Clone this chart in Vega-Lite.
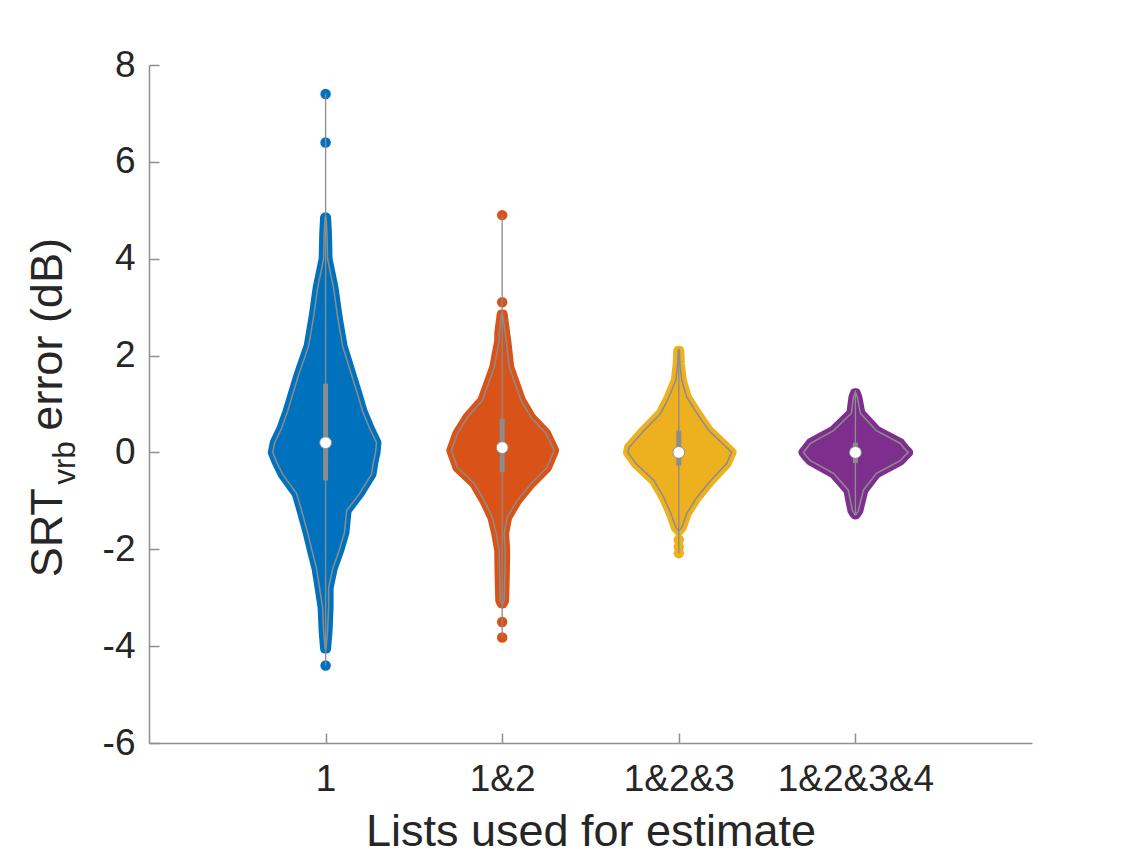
{
  "$schema": "https://vega.github.io/schema/vega-lite/v6.json",
  "autosize": "none",
  "width": 883,
  "height": 678,
  "padding": {"left": 149, "top": 65, "right": 112, "bottom": 116},
  "background": "white",
  "config": {
    "view": {"stroke": null},
    "font": "Liberation Sans",
    "axis": {
      "domainColor": "#8f8f8f",
      "domainWidth": 1.5,
      "tickColor": "#8f8f8f",
      "tickWidth": 1.5,
      "labelFont": "Liberation Sans",
      "labelFontSize": 37,
      "labelColor": "#262626",
      "titleFont": "Liberation Sans",
      "titleFontSize": 45,
      "titleFontWeight": "normal",
      "titleColor": "#262626",
      "grid": false
    }
  },
  "resolve": {"axis": {"x": "independent", "y": "independent"}},
  "datasets": {
    "shape": [
      {"g": "1", "y": 4.85, "xl": 0.997, "xr": 1.003},
      {"g": "1", "y": 4.5, "xl": 0.992, "xr": 1.008},
      {"g": "1", "y": 4.0, "xl": 0.989, "xr": 1.011},
      {"g": "1", "y": 3.4, "xl": 0.955, "xr": 1.045},
      {"g": "1", "y": 2.8, "xl": 0.932, "xr": 1.068},
      {"g": "1", "y": 2.2, "xl": 0.904, "xr": 1.096},
      {"g": "1", "y": 1.6, "xl": 0.847, "xr": 1.147},
      {"g": "1", "y": 1.2, "xl": 0.814, "xr": 1.181},
      {"g": "1", "y": 0.85, "xl": 0.785, "xr": 1.209},
      {"g": "1", "y": 0.5, "xl": 0.751, "xr": 1.249},
      {"g": "1", "y": 0.2, "xl": 0.712, "xr": 1.288},
      {"g": "1", "y": 0.0, "xl": 0.701, "xr": 1.283},
      {"g": "1", "y": -0.2, "xl": 0.723, "xr": 1.271},
      {"g": "1", "y": -0.45, "xl": 0.757, "xr": 1.26},
      {"g": "1", "y": -0.85, "xl": 0.836, "xr": 1.192},
      {"g": "1", "y": -1.2, "xl": 0.864, "xr": 1.119},
      {"g": "1", "y": -1.65, "xl": 0.898, "xr": 1.107},
      {"g": "1", "y": -2.0, "xl": 0.921, "xr": 1.079},
      {"g": "1", "y": -2.4, "xl": 0.949, "xr": 1.04},
      {"g": "1", "y": -2.8, "xl": 0.966, "xr": 1.017},
      {"g": "1", "y": -3.2, "xl": 0.983, "xr": 1.017},
      {"g": "1", "y": -3.7, "xl": 0.989, "xr": 1.011},
      {"g": "1", "y": -4.05, "xl": 0.997, "xr": 1.003},
      {"g": "1&2", "y": 2.85, "xl": 1.997, "xr": 2.003},
      {"g": "1&2", "y": 2.46, "xl": 1.983, "xr": 2.017},
      {"g": "1&2", "y": 2.31, "xl": 1.983, "xr": 2.023},
      {"g": "1&2", "y": 1.76, "xl": 1.955, "xr": 2.04},
      {"g": "1&2", "y": 1.07, "xl": 1.887, "xr": 2.107},
      {"g": "1&2", "y": 0.72, "xl": 1.802, "xr": 2.164},
      {"g": "1&2", "y": 0.39, "xl": 1.746, "xr": 2.249},
      {"g": "1&2", "y": 0.04, "xl": 1.712, "xr": 2.294},
      {"g": "1&2", "y": -0.31, "xl": 1.746, "xr": 2.254},
      {"g": "1&2", "y": -0.64, "xl": 1.842, "xr": 2.164},
      {"g": "1&2", "y": -0.99, "xl": 1.898, "xr": 2.085},
      {"g": "1&2", "y": -1.34, "xl": 1.944, "xr": 2.028},
      {"g": "1&2", "y": -1.67, "xl": 1.966, "xr": 2.011},
      {"g": "1&2", "y": -2.02, "xl": 1.983, "xr": 2.017},
      {"g": "1&2", "y": -2.5, "xl": 1.985, "xr": 2.015},
      {"g": "1&2", "y": -3.06, "xl": 1.989, "xr": 2.011},
      {"g": "1&2", "y": -3.12, "xl": 1.997, "xr": 2.003},
      {"g": "1&2&3", "y": 2.1, "xl": 2.997, "xr": 3.003},
      {"g": "1&2&3", "y": 1.84, "xl": 2.994, "xr": 3.006},
      {"g": "1&2&3", "y": 1.49, "xl": 2.983, "xr": 3.017},
      {"g": "1&2&3", "y": 1.14, "xl": 2.944, "xr": 3.045},
      {"g": "1&2&3", "y": 0.81, "xl": 2.898, "xr": 3.102},
      {"g": "1&2&3", "y": 0.45, "xl": 2.802, "xr": 3.17},
      {"g": "1&2&3", "y": 0.1, "xl": 2.718, "xr": 3.271},
      {"g": "1&2&3", "y": 0.0, "xl": 2.712, "xr": 3.299},
      {"g": "1&2&3", "y": -0.23, "xl": 2.757, "xr": 3.271},
      {"g": "1&2&3", "y": -0.58, "xl": 2.859, "xr": 3.181},
      {"g": "1&2&3", "y": -0.93, "xl": 2.915, "xr": 3.102},
      {"g": "1&2&3", "y": -1.26, "xl": 2.955, "xr": 3.045},
      {"g": "1&2&3", "y": -1.55, "xl": 2.983, "xr": 3.017},
      {"g": "1&2&3", "y": -1.61, "xl": 2.997, "xr": 3.003},
      {"g": "1&2&3&4", "y": 1.22, "xl": 3.997, "xr": 4.003},
      {"g": "1&2&3&4", "y": 1.14, "xl": 3.989, "xr": 4.011},
      {"g": "1&2&3&4", "y": 0.81, "xl": 3.977, "xr": 4.028},
      {"g": "1&2&3&4", "y": 0.45, "xl": 3.876, "xr": 4.119},
      {"g": "1&2&3&4", "y": 0.19, "xl": 3.746, "xr": 4.254},
      {"g": "1&2&3&4", "y": 0.08, "xl": 3.723, "xr": 4.277},
      {"g": "1&2&3&4", "y": 0.0, "xl": 3.706, "xr": 4.299},
      {"g": "1&2&3&4", "y": -0.08, "xl": 3.723, "xr": 4.277},
      {"g": "1&2&3&4", "y": -0.17, "xl": 3.746, "xr": 4.254},
      {"g": "1&2&3&4", "y": -0.43, "xl": 3.876, "xr": 4.119},
      {"g": "1&2&3&4", "y": -0.78, "xl": 3.96, "xr": 4.045},
      {"g": "1&2&3&4", "y": -1.2, "xl": 3.983, "xr": 4.017},
      {"g": "1&2&3&4", "y": -1.28, "xl": 3.997, "xr": 4.003}
    ],
    "dots": [
      {"g": "1", "pos": 1, "y": 7.4},
      {"g": "1", "pos": 1, "y": 6.4},
      {"g": "1", "pos": 1, "y": -4.4},
      {"g": "1&2", "pos": 2, "y": 4.9},
      {"g": "1&2", "pos": 2, "y": 3.1},
      {"g": "1&2", "pos": 2, "y": -3.5},
      {"g": "1&2", "pos": 2, "y": -3.82},
      {"g": "1&2&3", "pos": 3, "y": -1.8},
      {"g": "1&2&3", "pos": 3, "y": -1.95},
      {"g": "1&2&3", "pos": 3, "y": -2.08}
    ],
    "stats": [
      {"g": "1", "pos": 1, "min": -4.4, "max": 7.4, "q1": -0.58, "q3": 1.42, "med": 0.2},
      {"g": "1&2", "pos": 2, "min": -3.82, "max": 4.9, "q1": -0.41, "q3": 0.7, "med": 0.1},
      {"g": "1&2&3", "pos": 3, "min": -2.08, "max": 2.15, "q1": -0.27, "q3": 0.45, "med": 0.0},
      {"g": "1&2&3&4", "pos": 4, "min": -1.3, "max": 1.28, "q1": -0.22, "q3": 0.2, "med": 0.0}
    ]
  },
  "layer": [
    {
      "data": {"name": "shape"},
      "mark": {"type": "area", "orient": "horizontal", "strokeWidth": 10, "strokeJoin": "round", "fillOpacity": 1},
      "encoding": {
        "y": {"field": "y", "type": "quantitative", "scale": {"domain": [-6, 8], "nice": false, "zero": false},
          "axis": {"orient": "left", "values": [-6, -4, -2, 0, 2, 4, 6, 8], "title": null, "ticks": false, "labelPadding": 14,
            "labelExpr": "'' + datum.value"}},
        "x": {"field": "xl", "type": "quantitative", "scale": {"domain": [0, 5], "nice": false, "zero": false},
          "axis": {"orient": "bottom", "values": [1, 2, 3, 4], "title": "Lists used for estimate", "ticks": false, "labelPadding": 18, "titlePadding": 12,
            "labelExpr": "datum.value == 1 ? '1' : datum.value == 2 ? '1&2' : datum.value == 3 ? '1&2&3' : '1&2&3&4'"}},
        "x2": {"field": "xr"},
        "color": {"field": "g", "type": "nominal", "scale": {"domain": ["1", "1&2", "1&2&3", "1&2&3&4"], "range": ["#0072BD", "#D95319", "#EDB120", "#7E2F8E"]}, "legend": null},
        "stroke": {"field": "g", "type": "nominal", "scale": {"domain": ["1", "1&2", "1&2&3", "1&2&3&4"], "range": ["#0072BD", "#D95319", "#EDB120", "#7E2F8E"]}, "legend": null}
      }
    },
    {
      "data": {"name": "dots"},
      "mark": {"type": "point", "filled": true, "size": 110, "opacity": 1},
      "encoding": {
        "x": {"field": "pos", "type": "quantitative", "axis": null},
        "y": {"field": "y", "type": "quantitative", "axis": null},
        "color": {"field": "g", "type": "nominal", "legend": null}
      }
    },
    {
      "data": {"name": "shape"},
      "mark": {"type": "area", "orient": "horizontal", "fillOpacity": 0, "stroke": "#8c8c8c", "strokeWidth": 1.5},
      "encoding": {
        "y": {"field": "y", "type": "quantitative",
          "axis": {"orient": "right", "offset": -883, "values": [-6, -4, -2, 0, 2, 4, 6, 8], "title": null, "labels": false, "domain": false, "ticks": true, "tickSize": 10}},
        "x": {"field": "xl", "type": "quantitative",
          "axis": {"orient": "top", "offset": -678, "values": [1, 2, 3, 4], "title": null, "labels": false, "domain": false, "ticks": true, "tickSize": 10}},
        "x2": {"field": "xr"},
        "detail": {"field": "g", "type": "nominal"}
      }
    },
    {
      "data": {"name": "stats"},
      "mark": {"type": "rule", "color": "#8c8c8c", "strokeWidth": 1.3},
      "encoding": {
        "x": {"field": "pos", "type": "quantitative", "axis": null},
        "y": {"field": "min", "type": "quantitative", "axis": null},
        "y2": {"field": "max"}
      }
    },
    {
      "data": {"name": "stats"},
      "mark": {"type": "rule", "color": "#8c8c8c", "strokeWidth": 5},
      "encoding": {
        "x": {"field": "pos", "type": "quantitative", "axis": null},
        "y": {"field": "q1", "type": "quantitative", "axis": null},
        "y2": {"field": "q3"}
      }
    },
    {
      "data": {"name": "stats"},
      "mark": {"type": "point", "filled": true, "fill": "white", "stroke": "#8c8c8c", "strokeWidth": 1, "size": 140, "opacity": 1},
      "encoding": {
        "x": {"field": "pos", "type": "quantitative", "axis": null},
        "y": {"field": "med", "type": "quantitative", "axis": null}
      }
    },
    {
      "data": {"values": [{}]},
      "mark": {"type": "text", "angle": 270, "align": "left", "baseline": "alphabetic", "fontSize": 45, "color": "#262626", "font": "Liberation Sans"},
      "encoding": {
        "x": {"datum": -0.4915, "type": "quantitative", "axis": null},
        "y": {"datum": -2.58, "type": "quantitative", "axis": null},
        "text": {"value": "SRT"}
      }
    },
    {
      "data": {"values": [{}]},
      "mark": {"type": "text", "angle": 270, "align": "left", "baseline": "alphabetic", "fontSize": 31, "color": "#262626", "font": "Liberation Sans"},
      "encoding": {
        "x": {"datum": -0.418, "type": "quantitative", "axis": null},
        "y": {"datum": -0.66, "type": "quantitative", "axis": null},
        "text": {"value": "vrb"}
      }
    },
    {
      "data": {"values": [{}]},
      "mark": {"type": "text", "angle": 270, "align": "left", "baseline": "alphabetic", "fontSize": 45, "color": "#262626", "font": "Liberation Sans"},
      "encoding": {
        "x": {"datum": -0.4915, "type": "quantitative", "axis": null},
        "y": {"datum": 0.45, "type": "quantitative", "axis": null},
        "text": {"value": "error (dB)"}
      }
    }
  ]
}
